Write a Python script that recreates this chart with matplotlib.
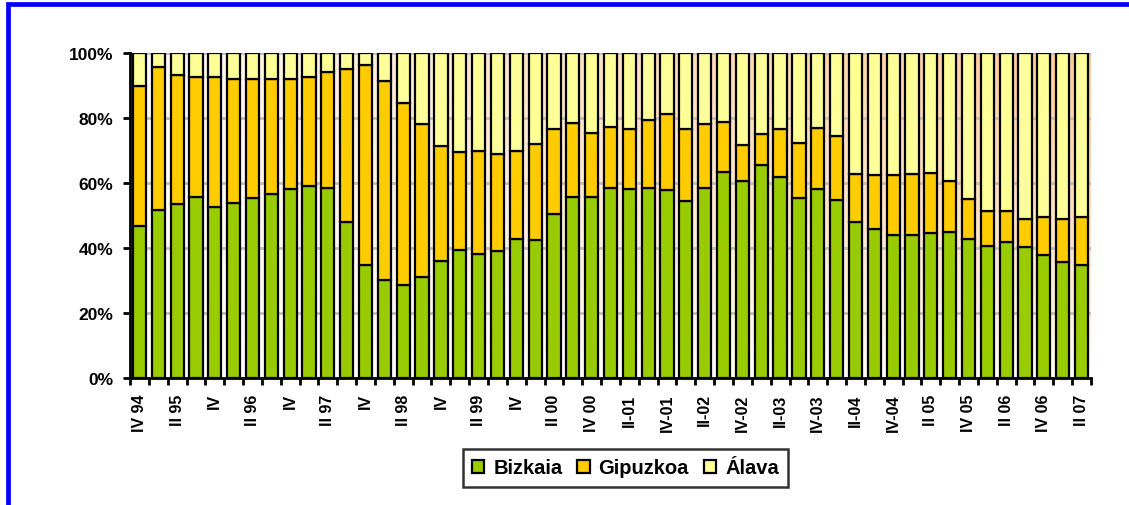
import numpy as np
import matplotlib
matplotlib.use("Agg")
import matplotlib.pyplot as plt
from matplotlib.patches import Rectangle
from matplotlib.colors import LinearSegmentedColormap
from matplotlib.ticker import FixedLocator, PercentFormatter

plt.rcParams['font.family'] = ['Liberation Sans', 'DejaVu Sans']
plt.rcParams['font.weight'] = 'bold'

# 51 quarters: IV 1994 .. II 2007
tick_labels = ["IV 94", "II 95", "IV", "II 96", "IV", "II 97", "IV", "II 98", "IV",
               "II 99", "IV", "II 00", "IV 00", "II-01", "IV-01", "II-02", "IV-02",
               "II-03", "IV-03", "II-04", "IV-04", "II 05", "IV 05", "II 06", "IV 06", "II 07"]

# Shares (%)
bizkaia = [46.8, 51.6, 53.4, 55.8, 52.7, 54.0, 55.3, 56.7, 58.1, 59.1,
           58.6, 48.0, 34.8, 30.3, 28.5, 31.2, 35.9, 39.4, 38.1, 39.1,
           42.7, 42.4, 50.6, 55.7, 55.7, 58.5, 58.3, 58.6, 57.8, 54.4,
           58.6, 63.4, 60.6, 65.6, 61.9, 55.5, 58.1, 54.9, 48.1, 46.0,
           44.0, 44.0, 44.7, 45.0, 42.7, 40.7, 41.9, 40.2, 37.8, 35.6, 34.7]
bizkaia_plus_gipuzkoa = [90.0, 95.6, 93.3, 92.6, 92.6, 92.0, 92.0, 92.0, 92.0, 92.6,
                         94.1, 95.0, 96.4, 91.3, 84.5, 78.2, 71.3, 69.5, 69.8, 69.0,
                         70.0, 72.0, 76.7, 78.4, 75.4, 77.2, 76.7, 79.4, 81.1, 76.6,
                         78.2, 78.8, 71.8, 75.1, 76.7, 72.3, 77.0, 74.6, 62.9, 62.4,
                         62.4, 62.9, 63.1, 60.5, 55.2, 51.4, 51.4, 48.9, 49.4, 48.9, 49.6]

biz = np.array(bizkaia)
gip = np.array(bizkaia_plus_gipuzkoa) - biz
ala = 100.0 - np.array(bizkaia_plus_gipuzkoa)
x = np.arange(len(biz))

fig = plt.figure(figsize=(11.29, 5.06), dpi=100)
ax = fig.add_axes([130/1129, 1-379/506, (1091-130)/1129, (379-54)/506])

# background gradient (white bottom-left -> peach top-right)
gx, gy = np.meshgrid(np.linspace(0, 1, 300), np.linspace(0, 1, 150))
t = (gx * gy) ** 0.75
cmap = LinearSegmentedColormap.from_list("bg", ["#FFFFFF", "#FFCC99"])
ax.imshow(t, extent=(-0.5, len(x) - 0.5, 0, 100), origin='lower', cmap=cmap,
          aspect='auto', zorder=0, vmin=0, vmax=1)

for v in [20, 40, 60, 80, 100]:
    ax.axhline(v, color='#C0C0C0', lw=2, zorder=1)

w = 0.7
kw = dict(width=w, edgecolor='black', linewidth=1.6, zorder=3)
b1 = ax.bar(x, biz, color='#99CC00', label='Bizkaia', **kw)
b2 = ax.bar(x, gip, bottom=biz, color='#FFCC00', label='Gipuzkoa', **kw)
b3 = ax.bar(x, ala, bottom=biz + gip, color='#FFFF99', label='Álava', **kw)

ax.set_xlim(-0.5, len(x) - 0.5)
ax.set_ylim(0, 100)
ax.set_yticks([0, 20, 40, 60, 80, 100])
ax.yaxis.set_major_formatter(PercentFormatter(decimals=0))
ax.tick_params(axis='y', length=5, width=2, pad=7, labelsize=12.5)

ax.set_xticks(x[::2])
ax.set_xticklabels(tick_labels, rotation=90, fontsize=11.5, fontweight='bold')
ax.xaxis.set_minor_locator(FixedLocator(np.arange(-0.5, len(x), 1.0)))
ax.tick_params(axis='x', which='major', length=0, pad=11)
ax.tick_params(axis='x', which='minor', length=5, width=2)

for s in ['top', 'right']:
    ax.spines[s].set_visible(False)
for s in ['left', 'bottom']:
    ax.spines[s].set_linewidth(2)
    ax.spines[s].set_zorder(5)

leg = fig.legend(handles=[b1, b2, b3], loc='center', bbox_to_anchor=(625.5/1129, 1-469/506),
                 ncol=3, frameon=True, fancybox=False,
                 handlelength=0.6, handleheight=0.6, handletextpad=0.45,
                 columnspacing=0.75, borderpad=0.45, borderaxespad=0,
                 prop={'weight': 'bold', 'size': 14.5})
leg.get_frame().set_edgecolor('black')
leg.get_frame().set_linewidth(1.8)

# blue outer frame (cut off at right and bottom)
fig.patches.append(Rectangle((7.5/1129, -0.2), 1.2, 1 - 5/506 + 0.2,
                             transform=fig.transFigure, fill=False,
                             edgecolor='#0000FF', linewidth=3.4, clip_on=False))

fig.savefig("out.png", dpi=100)
